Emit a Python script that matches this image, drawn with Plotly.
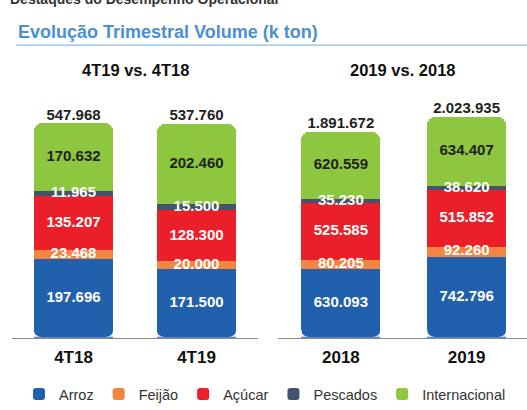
import plotly.graph_objects as go

# ---------------- data ----------------
periods_q = ["4T18", "4T19"]
periods_y = ["2018", "2019"]
series = ["Arroz", "Feijão", "Açúcar", "Pescados", "Internacional"]
colors = ["#2160ad", "#f28540", "#ea1f29", "#43536b", "#8dc63f"]
label_colors = ["white", "white", "white", "white", "#231f20"]

# values in tons (shown as k ton with "." thousand separator)
arroz_q = [197696, 171500]
feijao_q = [23468, 20000]
acucar_q = [135207, 128300]
pescados_q = [11965, 15500]
internacional_q = [170632, 202460]
total_q = [547968, 537760]

arroz_y = [630093, 742796]
feijao_y = [80205, 92260]
acucar_y = [525585, 515852]
pescados_y = [35230, 38620]
internacional_y = [620559, 634407]
total_y = [1891672, 2023935]

# ---------------- layout constants ----------------
W, H = 527, 410
FONT = "Liberation Sans, Arial, sans-serif"
y_bottom_px, y_top_px = 341, 100
panels = [
    dict(xa="x", ya="y", cats=periods_q, vals=[arroz_q, feijao_q, acucar_q, pescados_q, internacional_q],
         totals=total_q, dom=(12, 258), xr=(-0.5, 1.5), yr=(0, 600), width=0.645,
         title="4T19 vs. 4T18", legend=True),
    dict(xa="x2", ya="y2", cats=periods_y, vals=[arroz_y, feijao_y, acucar_y, pescados_y, internacional_y],
         totals=total_y, dom=(278, 527), xr=(-0.5, 1.48), yr=(0, 2190), width=0.627,
         title="2019 vs. 2018", legend=False),
]

def fmt(v):
    return f"{v:,}".replace(",", ".")

fig = go.Figure()
shapes = []
annotations = []
ydom = ((H - y_bottom_px) / H, (H - y_top_px) / H)

for pi, p in enumerate(panels):
    xs = list(range(len(p["cats"])))
    # bars
    for si, name in enumerate(series):
        fig.add_trace(go.Bar(
            x=xs, y=[v / 1000 for v in p["vals"][si]], width=p["width"],
            name=name, legendgroup=name, showlegend=p["legend"],
            marker=dict(color=colors[si], line=dict(width=0)),
            xaxis=p["xa"], yaxis=p["ya"], hoverinfo="skip",
        ))
    # segment labels
    base = [0.0] * len(xs)
    for si, name in enumerate(series):
        vals = [v / 1000 for v in p["vals"][si]]
        mids = [b + v / 2 for b, v in zip(base, vals)]
        fig.add_trace(go.Scatter(
            x=xs, y=mids, mode="text", text=[fmt(v) for v in p["vals"][si]],
            textposition="middle center",
            textfont=dict(family=FONT, size=15, color=label_colors[si], weight="bold"),
            showlegend=False, hoverinfo="skip", cliponaxis=False,
            xaxis=p["xa"], yaxis=p["ya"],
        ))
        base = [b + v for b, v in zip(base, vals)]
    # totals
    fig.add_trace(go.Scatter(
        x=xs, y=base, mode="text", text=[fmt(t) for t in p["totals"]],
        textposition="top center",
        textfont=dict(family=FONT, size=15, color="#231f20", weight="bold"),
        showlegend=False, hoverinfo="skip", cliponaxis=False,
        xaxis=p["xa"], yaxis=p["ya"],
    ))
    # rounded bottom corners (white masks)
    ppu = (p["dom"][1] - p["dom"][0]) / (p["xr"][1] - p["xr"][0])
    r = 8
    rx = r / ppu
    d = 2 / ppu
    hw = p["width"] / 2
    for x in xs:
        xl, xrr = x - hw, x + hw
        shapes.append(dict(type="path", xref=p["xa"], yref=p["ya"], ysizemode="pixel", yanchor=0,
                           path=f"M {xl-d},1 L {xl-d},{r} L {xl},{r} Q {xl},1 {xl+rx},1 Z",
                           fillcolor="white", line=dict(width=0), layer="above"))
        shapes.append(dict(type="path", xref=p["xa"], yref=p["ya"], ysizemode="pixel", yanchor=0,
                           path=f"M {xrr+d},1 L {xrr+d},{r} L {xrr},{r} Q {xrr},1 {xrr-rx},1 Z",
                           fillcolor="white", line=dict(width=0), layer="above"))
    # panel title
    annotations.append(dict(text=p["title"], xref="paper", yref="paper",
                            x=(p["dom"][0] + p["dom"][1]) / 2 / W, y=1 - 71 / H,
                            xanchor="center", yanchor="middle", showarrow=False,
                            font=dict(family=FONT, size=16.5, color="#111", weight="bold")))

# header texts
annotations.append(dict(text="Destaques do Desempenho Operacional", xref="paper", yref="paper",
                        x=8 / W, y=1 + 1 / H, xanchor="left", yanchor="middle", showarrow=False,
                        font=dict(family=FONT, size=14, color="#333", weight="bold")))
annotations.append(dict(text="Evolução Trimestral Volume (k ton)", xref="paper", yref="paper",
                        x=16 / W, y=1 - 32 / H, xanchor="left", yanchor="middle", showarrow=False,
                        font=dict(family=FONT, size=18, color="#4a90d2", weight="bold")))
shapes.append(dict(type="line", xref="paper", yref="paper", x0=16 / W, x1=1,
                   y0=1 - 45.5 / H, y1=1 - 45.5 / H, line=dict(color="#8cbbe6", width=1.2)))

axis_common = dict(showgrid=False, zeroline=False, showline=True, linecolor="#8a8a8a", linewidth=1,
                   ticks="", tickfont=dict(family=FONT, size=17, color="#111", weight="bold"),
                   ticklabelstandoff=4, fixedrange=True)
yaxis_common = dict(visible=False, showgrid=False, zeroline=False, fixedrange=True)

p0, p1 = panels
fig.update_layout(
    width=W, height=H,
    margin=dict(l=0, r=0, t=0, b=0),
    paper_bgcolor="white", plot_bgcolor="white",
    barmode="stack", barcornerradius=8, bargap=0,
    showlegend=True,
    legend=dict(orientation="h", x=19 / W, xanchor="left", y=1 - 398 / H, yanchor="middle",
                font=dict(family=FONT, size=14.5, color="#333"), itemwidth=30,
                bgcolor="rgba(0,0,0,0)", traceorder="normal"),
    xaxis=dict(domain=[p0["dom"][0] / W, p0["dom"][1] / W], range=list(p0["xr"]),
               tickvals=[0, 1], ticktext=p0["cats"], anchor="y", **axis_common),
    yaxis=dict(domain=list(ydom), range=list(p0["yr"]), anchor="x", **yaxis_common),
    xaxis2=dict(domain=[p1["dom"][0] / W, p1["dom"][1] / W], range=list(p1["xr"]),
                tickvals=[0, 1], ticktext=p1["cats"], anchor="y2", **axis_common),
    yaxis2=dict(domain=list(ydom), range=list(p1["yr"]), anchor="x2", **yaxis_common),
    shapes=shapes, annotations=annotations,
)

fig.write_html("out.html", config={"displayModeBar": False},
               post_script="document.body.style.margin='0';document.body.style.overflow='hidden';")
